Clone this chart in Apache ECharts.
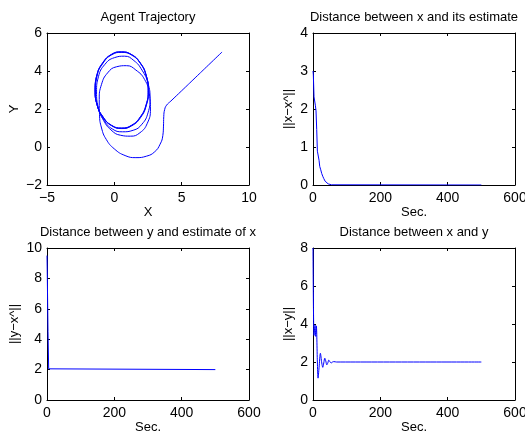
<!DOCTYPE html>
<html>
<head>
<meta charset="utf-8">
<script src="https://cdn.jsdelivr.net/npm/echarts@6/dist/echarts.min.js"></script>
<style>
  html, body { margin: 0; padding: 0; background: #fff; }
  #chart { width: 525px; height: 437px; }
</style>
</head>
<body>
<div id="chart"></div>
<script>
// agent trajectory (x, y): straight approach, outer loop, then spiral onto the limit cycle
const agentPath = [
  [8.0, 5.0], [7.0, 4.32], [6.0, 3.64], [5.0, 2.96], [4.2, 2.42], [3.88, 2.2], [3.74, 1.98], [3.67, 1.6],
  [3.65, 1.1], [3.6, 0.6], [3.4, 0.15], [3.0, -0.25], [2.4, -0.48], [1.6, -0.56], [0.8, -0.45],
  [0.0, -0.1], [-0.6, 0.4], [-0.95, 1.0], [-1.1, 1.7],
  [-1.12, 2.5], [-0.95, 3.3], [-0.5, 3.9], [0.15, 4.22], [0.9, 4.28], [1.6, 4.05], [2.25, 3.55],
  [2.6, 2.8], [2.68, 2.0], [2.45, 1.25], [1.9, 0.75], [1.2, 0.57], [0.45, 0.62], [-0.25, 0.9], [-0.8, 1.4],
  [-1.2, 2.1], [-1.32, 2.9], [-1.18, 3.7], [-0.7, 4.35], [0.0, 4.7], [0.75, 4.78], [1.45, 4.55],
  [2.05, 4.05], [2.5, 3.35], [2.65, 2.55], [2.5, 1.8], [2.05, 1.2], [1.4, 0.88], [0.6, 0.8], [-0.15, 0.95], [-0.75, 1.4],
  [-1.25, 2.15], [-1.4, 2.95], [-1.28, 3.75], [-0.85, 4.4], [-0.2, 4.85], [0.55, 4.98], [1.3, 4.83],
  [1.95, 4.38], [2.38, 3.72], [2.53, 2.95], [2.38, 2.2], [1.95, 1.55], [1.3, 1.12], [0.55, 0.97], [-0.2, 1.12], [-0.84, 1.56],
  [-1.27, 2.2], [-1.42, 3.0], [-1.29, 3.78], [-0.86, 4.42], [-0.2, 4.87], [0.52, 5.0], [1.28, 4.86],
  [1.94, 4.41], [2.37, 3.76], [2.52, 2.98], [2.37, 2.22], [1.94, 1.58], [1.3, 1.14], [0.55, 0.99], [-0.2, 1.13], [-0.84, 1.58],
  [-1.28, 2.22], [-1.43, 3.0], [-1.3, 3.78], [-0.87, 4.43], [-0.21, 4.88], [0.52, 5.01], [1.27, 4.87],
  [1.93, 4.42], [2.36, 3.77], [2.51, 2.99], [2.36, 2.23], [1.93, 1.59], [1.29, 1.15], [0.55, 1.0], [-0.2, 1.14], [-0.85, 1.6],
  [-1.29, 2.24], [-1.43, 3.02], [-1.3, 3.8]
];

// ||x - x^|| over time
const timeA = [0, 1, 3, 5, 7, 9, 11, 13, 15, 18, 20, 23, 26, 29, 32, 36, 40, 45, 50, 55, 60, 500];
const distA = [3.0, 2.9, 2.32, 2.28, 2.1, 1.95, 1.46, 0.89, 0.84, 0.65, 0.49, 0.4, 0.3, 0.23, 0.17, 0.1, 0.06, 0.03, 0.01, 0.005, 0, 0];

// ||y - x^|| over time
const timeB = [0, 1, 3, 5, 6, 500];
const distB = [9.5, 8.0, 4.5, 2.05, 2.0, 2.0];

// ||x - y|| over time
const timeC = [0, 3, 6, 8, 10, 13, 15, 18, 22, 26, 29, 32, 35, 38, 41, 44, 47, 50, 54, 58, 62, 70, 500];
const distC = [8.0, 3.4, 3.95, 3.35, 3.9, 2.0, 1.15, 1.7, 2.46, 1.95, 1.72, 1.95, 2.2, 2.05, 1.85, 1.95, 2.1, 2.02, 1.95, 2.0, 2.02, 2.0, 2.0];

const titles = ['Agent Trajectory', 'Distance between x and its estimate', 'Distance between y and estimate of x', 'Distance between x and y'];

const FONT = 'Liberation Sans';
const BLACK = '#000';
const BLUE = '#0000ff';

const zip = (a, b) => a.map((v, i) => [v, b[i]]);
const minus = v => String(v).replace('-', '\u2212');

// matlab style axes: labelled bottom/left, plain top/right, ticks pointing in
function xAxes(grid, min, max, interval, name, title) {
  const base = {
    gridIndex: grid, type: 'value', min, max, interval,
    axisLine: { show: true, onZero: false, lineStyle: { color: BLACK, width: 1 } },
    axisTick: { show: true, inside: true, length: 3, lineStyle: { color: BLACK } },
    splitLine: { show: false }
  };
  return [
    Object.assign({}, base, {
      position: 'bottom', name, nameLocation: 'middle', nameGap: 21,
      nameTextStyle: { fontFamily: FONT, fontSize: 13, color: BLACK },
      axisLabel: { margin: 6, fontFamily: FONT, fontSize: 14, color: BLACK, formatter: minus }
    }),
    Object.assign({}, base, {
      position: 'top', name: title, nameLocation: 'middle', nameGap: 9,
      nameTextStyle: { fontFamily: FONT, fontSize: 13, color: BLACK },
      axisLabel: { show: false }
    })
  ];
}

function yAxes(grid, min, max, interval, name, gap) {
  const base = {
    gridIndex: grid, type: 'value', min, max, interval,
    axisLine: { show: true, onZero: false, lineStyle: { color: BLACK, width: 1 } },
    axisTick: { show: true, inside: true, length: 3, lineStyle: { color: BLACK } },
    splitLine: { show: false }
  };
  return [
    Object.assign({}, base, {
      position: 'left', name, nameLocation: 'middle', nameGap: gap,
      nameTextStyle: { fontFamily: FONT, fontSize: 13, color: BLACK },
      axisLabel: { margin: 5, fontFamily: FONT, fontSize: 14, color: BLACK, formatter: minus }
    }),
    Object.assign({}, base, { position: 'right', axisLabel: { show: false } })
  ];
}

function lineSeries(idx, data, smooth) {
  return {
    type: 'line', xAxisIndex: idx * 2, yAxisIndex: idx * 2, data,
    showSymbol: false, smooth, silent: true, animation: false,
    lineStyle: { color: BLUE, width: 1 }
  };
}

const chart = echarts.init(document.getElementById('chart'), null, { renderer: 'canvas' });

const option = {
  backgroundColor: '#fff',
  animation: false,
  grid: [
    { left: 47, top: 33, width: 202, height: 152, outerBoundsMode: 'none' },
    { left: 313, top: 33, width: 202, height: 152, outerBoundsMode: 'none' },
    { left: 47, top: 248, width: 202, height: 152, outerBoundsMode: 'none' },
    { left: 313, top: 248, width: 202, height: 152, outerBoundsMode: 'none' }
  ],
  xAxis: [
    ...xAxes(0, -5, 10, 5, 'X', titles[0]),
    ...xAxes(1, 0, 600, 200, 'Sec.', titles[1]),
    ...xAxes(2, 0, 600, 200, 'Sec.', titles[2]),
    ...xAxes(3, 0, 600, 200, 'Sec.', titles[3])
  ],
  yAxis: [
    ...yAxes(0, -2, 6, 2, 'Y', 26),
    ...yAxes(1, 0, 4, 1, '||x\u2212x^||', 18),
    ...yAxes(2, 0, 10, 2, '||y\u2212x^||', 26),
    ...yAxes(3, 0, 8, 2, '||x\u2212y||', 18)
  ],
  series: [
    lineSeries(0, agentPath, 0.5),
    lineSeries(1, zip(timeA, distA), false),
    lineSeries(2, zip(timeB, distB), false),
    lineSeries(3, zip(timeC, distC), 0.3)
  ]
};

chart.setOption(option);
</script>
</body>
</html>
